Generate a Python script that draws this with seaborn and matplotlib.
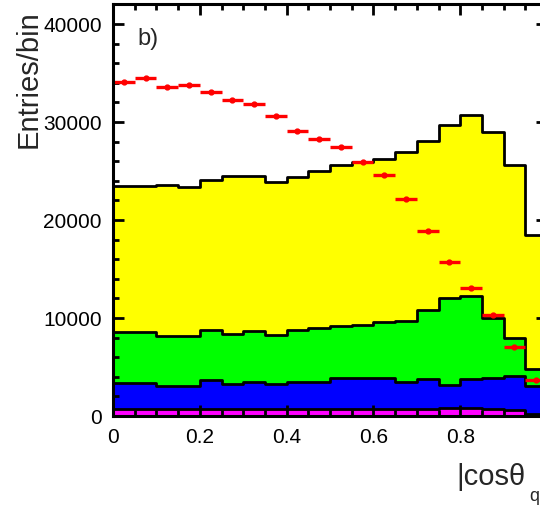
import numpy as np
import pandas as pd
import matplotlib
matplotlib.use("Agg")
import matplotlib.pyplot as plt
import seaborn as sns
from matplotlib.ticker import MultipleLocator

# ---- binning ----
bin_lo = 0.0
bin_hi = 1.0
n_bins = 20

# ---- data points (red) ----
data_counts = [34050, 34460, 33540, 33740, 33030, 32280, 31840, 30580, 29120, 28270,
               27450, 25890, 24590, 22140, 18910, 15750, 13060, 10310, 7070, 3700]

# ---- stacked MC components (bottom to top) ----
mc_magenta = [720, 720, 720, 720, 720, 720, 720, 720, 750, 750,
              750, 750, 750, 750, 750, 800, 820, 720, 600, 250]
mc_blue = [2650, 2650, 2310, 2380, 2950, 2550, 2720, 2520, 2690, 2750,
           3130, 3150, 3130, 2750, 3030, 2360, 2960, 3160, 3450, 2850]
mc_green = [5170, 5170, 5170, 5100, 5140, 5100, 5270, 5060, 5370, 5450,
            5340, 5390, 5680, 6230, 7040, 8880, 8430, 6090, 3880, 1700]
mc_yellow = [14960, 14960, 15370, 15200, 15240, 16090, 15790, 15600, 15580, 16020,
             16390, 16600, 16660, 17240, 17240, 17650, 18500, 18980, 17680, 13700]

x_ticks = [0, 0.2, 0.4, 0.6, 0.8]
x_ticklabels = ["0", "0.2", "0.4", "0.6", "0.8"]
y_ticks = [0, 10000, 20000, 30000, 40000]
y_ticklabels = ["0", "10000", "20000", "30000", "40000"]

sns.set_theme(style="ticks")
plt.rcParams["font.family"] = ["Liberation Sans", "DejaVu Sans"]

bin_width = (bin_hi - bin_lo) / n_bins
edges = np.linspace(bin_lo, bin_hi, n_bins + 1)
centers = 0.5 * (edges[:-1] + edges[1:])
half = 0.5 * bin_width

components = [("magenta", mc_magenta, "#ff00ff"),
              ("blue", mc_blue, "#0000ff"),
              ("green", mc_green, "#00ff00"),
              ("yellow", mc_yellow, "#ffff00")]
cum = np.cumsum([np.array(c[1], dtype=float) for c in components], axis=0)
df = pd.DataFrame({
    "x": np.tile(centers, len(components)),
    "w": cum.ravel(),
    "layer": np.repeat([c[0] for c in components], n_bins),
})

fig = plt.figure(figsize=(5.4, 5.06), dpi=100)
ax = fig.add_axes([113 / 540, 1 - 417 / 506, 434 / 540, 412 / 506])

for name, _, color in reversed(components):
    sub = df[df["layer"] == name]
    sns.histplot(data=sub, x="x", weights="w", binwidth=bin_width,
                 binrange=(bin_lo, bin_hi), element="step",
                 fill=True, color=color, alpha=1, edgecolor="black",
                 linewidth=2.0, ax=ax)

ax.errorbar(centers, data_counts, xerr=half, fmt="o", color="red", mfc="red",
            mec="red", ms=3.5, elinewidth=2.4, capsize=0, zorder=5)

ax.set_axisbelow(False)
ax.set_xlim(bin_lo, bin_hi)
ax.set_ylim(0, 42040)
ax.set_xlabel("")
ax.set_ylabel("")
ax.set_xticks(x_ticks)
ax.set_xticklabels(x_ticklabels)
ax.set_yticks(y_ticks)
ax.set_yticklabels(y_ticklabels)
ax.xaxis.set_minor_locator(MultipleLocator(0.05))
ax.yaxis.set_minor_locator(MultipleLocator(2000))
ax.tick_params(which="both", direction="in", top=True, right=True,
               width=2, colors="black", labelsize=15)
ax.tick_params(which="major", length=8)
ax.tick_params(which="minor", length=4)
ax.tick_params(axis="x", which="major", pad=8)
ax.tick_params(axis="y", which="major", pad=8)
for sp in ax.spines.values():
    sp.set_visible(True)
    sp.set_linewidth(2.2)
    sp.set_color("black")
    sp.set_zorder(6)
ax.grid(False)

fig.text(137 / 540, 1 - 45 / 506, "b)", fontsize=17, ha="left", va="baseline")
fig.text(15 / 540, 1 - 10 / 506, "Entries/bin", fontsize=21, rotation=90,
         ha="left", va="top")
fig.text(456 / 540, 1 - 485 / 506, "|cosθ", fontsize=21, ha="left", va="baseline")
fig.text(529 / 540, 1 - 501 / 506, "q", fontsize=13, ha="left", va="baseline")

fig.savefig("out.png", dpi=100)
